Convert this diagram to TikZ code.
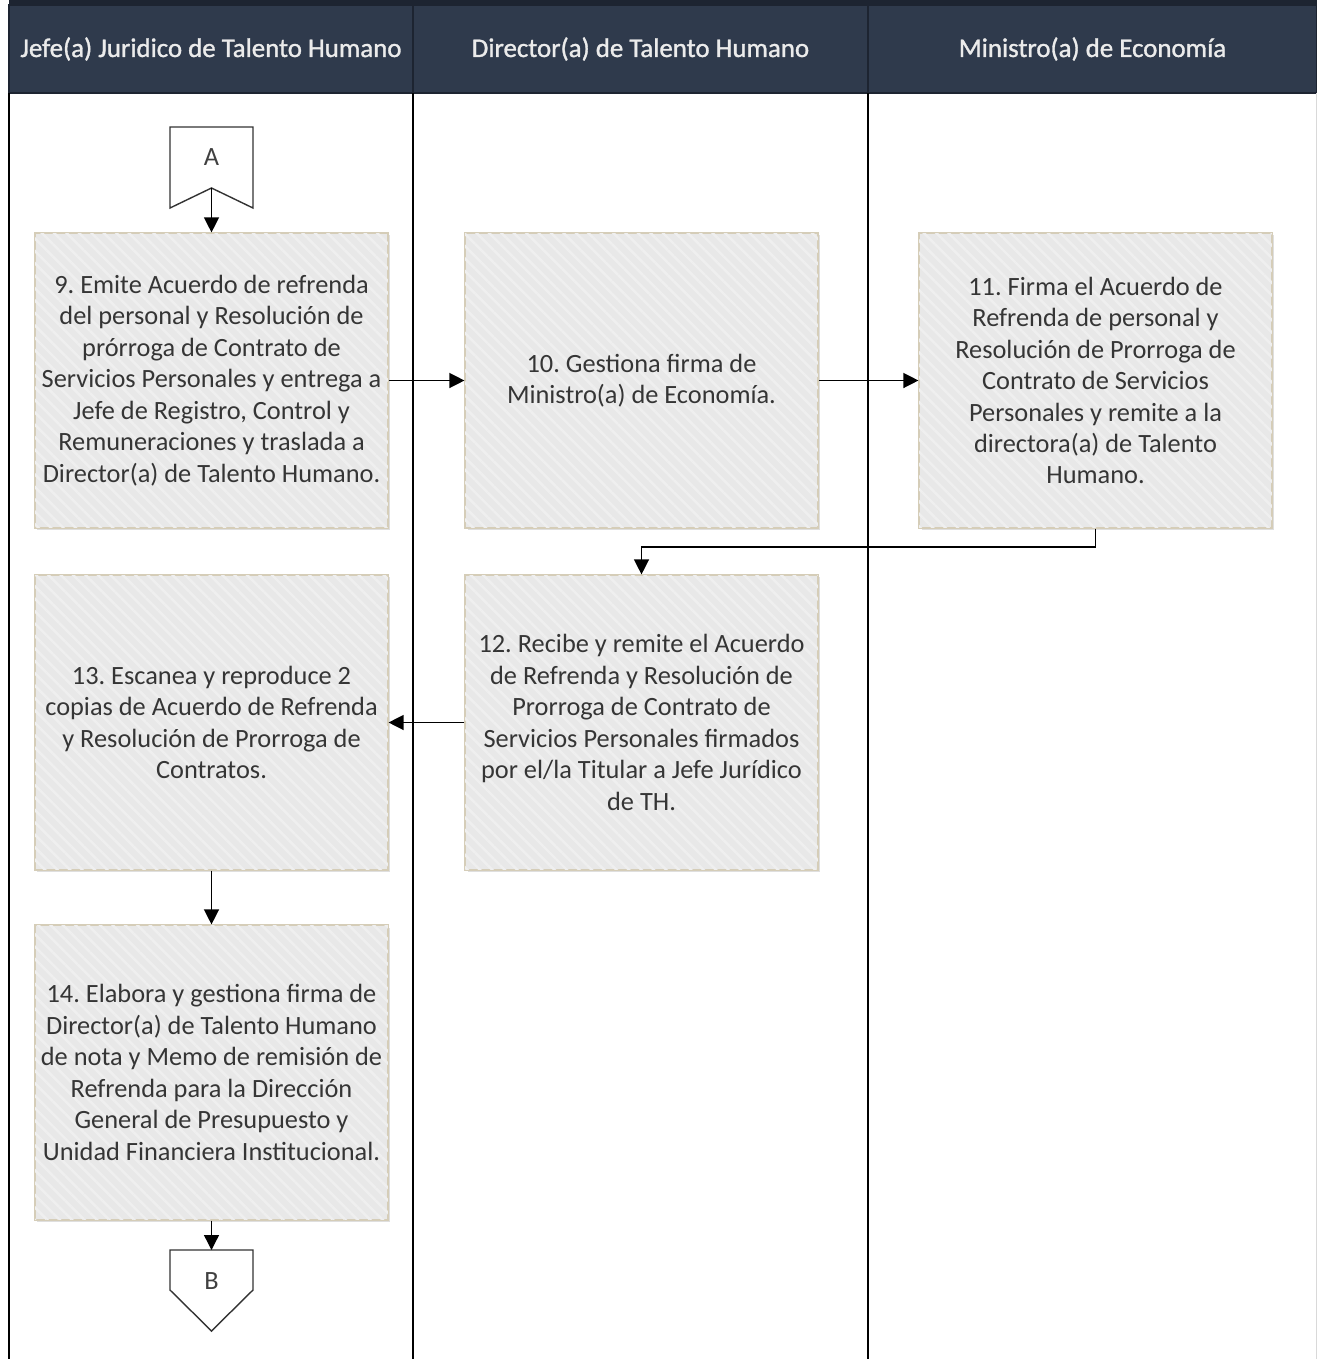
\documentclass[tikz,border=0pt]{standalone}
\usepackage{fontspec}
\setmainfont{Carlito}
\newfontfamily\headfont[FakeBold=1.2]{Carlito}
\usetikzlibrary{arrows.meta,patterns.meta,shadows}
\frenchspacing
\definecolor{headfill}{HTML}{2F3A4C}
\definecolor{headline}{HTML}{1D2431}
\definecolor{stepfill}{HTML}{E8E8E8}
\definecolor{stepline}{HTML}{D5CDB8}
\definecolor{steptext}{HTML}{353535}
\tikzset{
  lanehead/.style={fill=headfill, draw=headline, line width=1pt, text=white!92!black,
    minimum height=1.76cm, inner sep=0pt, font=\headfont\fontsize{15.3}{18}\selectfont},
  stepbox/.style={draw=stepline, line width=0.7pt, fill=stepfill,
    postaction={pattern={Lines[angle=-45,distance=5pt,line width=1.4pt]}, pattern color=white!30!stepfill},
    drop shadow={opacity=0.25, shadow xshift=1.4pt, shadow yshift=-1.4pt},
    minimum width=7.06cm, minimum height=5.9cm, inner sep=0pt, align=center,
    text=steptext, font=\fontsize{15}{17.9}\selectfont},
  flow/.style={-{Triangle[width=8.5pt,length=8.5pt]}, line width=0.75pt, black},
  pagecon/.style={draw=black!80, line width=0.8pt, fill=white},
  lanesep/.style={line width=0.8pt, black}
}
\begin{document}
\begin{tikzpicture}[x=0.02cm, y=-0.02cm]
  \useasboundingbox (0,0) rectangle (1317,1359);
  \fill[white] (0,0) rectangle (1317,1359);
  \fill[headline] (9,0) rectangle (1317,5);

  \node[lanehead, minimum width=8.08cm] (jefe) at (211,49) {Jefe(a) Juridico de Talento Humano};
  \node[lanehead, minimum width=9.10cm] (dir) at (640.5,49) {Director(a) de Talento Humano};
  \node[lanehead, minimum width=8.98cm] (min) at (1092.5,49) {Ministro(a) de Economía};

  \draw[lanesep] (9,93) -- (9,1359);
  \draw[lanesep] (413,93) -- (413,1359);
  \draw[lanesep] (868,93) -- (868,1359);
  \draw[black!15] (1316.5,93) -- (1316.5,1359);

  \draw[pagecon] (170,127) -- (253,127) -- (253,208) -- (211.5,188) -- (170,208) -- cycle;
  \node[text=black!75, font=\fontsize{15}{18}\selectfont] (conA) at (211.5,157) {A};
  \coordinate (conAnotch) at (211.5,188);

  \node[stepbox] (s9) at (211.5,380.5) {9. Emite Acuerdo de refrenda\\ del personal y Resolución de\\ prórroga de Contrato de\\ Servicios Personales y entrega a\\ Jefe de Registro, Control y\\ Remuneraciones y traslada a\\ Director(a) de Talento Humano.};
  \node[stepbox] (s10) at (641.5,380.5) {10. Gestiona firma de\\ Ministro(a) de Economía.};
  \node[stepbox] (s11) at (1095.5,380.5) {11. Firma el Acuerdo de\\ Refrenda de personal y\\ Resolución de Prorroga de\\ Contrato de Servicios\\ Personales y remite a la\\ directora(a) de Talento\\ Humano.};
  \node[stepbox] (s12) at (641.5,722.5) {12. Recibe y remite el Acuerdo\\ de Refrenda y Resolución de\\ Prorroga de Contrato de\\ Servicios Personales firmados\\ por el/la Titular a Jefe Jurídico\\ de TH.};
  \node[stepbox] (s13) at (211.5,722.5) {13. Escanea y reproduce 2\\ copias de Acuerdo de Refrenda\\ y Resolución de Prorroga de\\ Contratos.};
  \node[stepbox] (s14) at (211.5,1072.5) {14. Elabora y gestiona firma de\\ Director(a) de Talento Humano\\ de nota y Memo de remisión de\\ Refrenda para la Dirección\\ General de Presupuesto y\\ Unidad Financiera Institucional.};

  \draw[pagecon] (170,1250) -- (253,1250) -- (253,1290) -- (211.5,1331) -- (170,1290) -- cycle;
  \node[text=black!75, font=\fontsize{15}{18}\selectfont] (conB) at (211.5,1281) {B};
  \coordinate (conBtop) at (211.5,1250);

  \draw[flow] (conAnotch) -- (s9.north);
  \draw[flow] (s9.east) -- (s10.west);
  \draw[flow] (s10.east) -- (s11.west);
  \draw[flow] (s11.south) |- (641.5,547) -- (s12.north);
  \draw[flow] (s12.west) -- (s13.east);
  \draw[flow] (s13.south) -- (s14.north);
  \draw[flow] (s14.south) -- (conBtop);
\end{tikzpicture}
\end{document}
